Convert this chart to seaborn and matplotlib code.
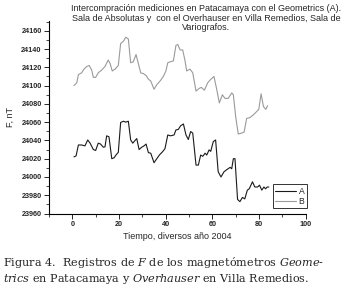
import matplotlib
matplotlib.use("Agg")
import matplotlib.pyplot as plt
import seaborn as sns
import pandas as pd
from matplotlib.ticker import MultipleLocator

# Series A (Geometrics, Patacamaya)
a_x = [0.7, 1.6, 2.6, 4.0, 5.4, 6.6, 7.6, 9.0, 10.0, 11.1, 12.1, 13.3, 14.0, 14.7, 15.7,
       16.9, 17.9, 18.7, 19.7, 20.7, 21.9, 22.9, 24.0, 25.0, 25.9, 26.9, 27.6, 28.6, 29.7,
       30.7, 31.6, 32.6, 33.6, 35.0, 36.2, 37.3, 38.7, 39.7, 40.9, 42.1, 43.6, 44.4, 45.4,
       46.4, 47.6, 48.7, 49.7, 50.7, 51.6, 53.0, 54.0, 55.0, 55.9, 56.9, 57.6, 58.6, 59.3,
       60.4, 61.4, 62.5, 63.7, 65.0, 66.2, 67.6, 68.3, 69.0, 69.7, 70.8, 71.8, 72.9, 73.9,
       75.0, 75.8, 77.2, 78.2, 79.4, 80.2, 81.2, 82.1, 82.8, 83.5, 84.2]
a_y = [24022, 24023, 24035, 24035, 24034, 24040.5, 24037, 24030, 24029, 24037, 24036, 24032.5,
       24033, 24045, 24044, 24020, 24021, 24024, 24027, 24059.6, 24061, 24060, 24061, 24040.5,
       24037, 24040, 24042, 24030, 24032.5, 24034, 24036, 24026.6, 24026, 24015.6, 24020, 24024,
       24027.7, 24031, 24046, 24045, 24046, 24051.5, 24052, 24056, 24058, 24046, 24041, 24049.7,
       24048, 24013, 24013, 24024, 24022.6, 24026, 24024, 24029.6, 24028, 24038.7, 24040.5,
       24005.7, 24000, 24005.7, 24008, 24010.5, 24009, 24020, 24020, 23975.4, 23973, 23977.6,
       23976, 23985.6, 23987, 23994.7, 23989, 23989, 23991, 23985.6, 23989, 23987, 23989, 23989]

# Series B (Overhauser, Villa Remedios)
b_x = [0.7, 1.9, 2.6, 4.0, 5.0, 6.2, 7.2, 8.3, 9.0, 10.0, 11.1, 12.6, 14.0, 15.4, 16.2, 17.1,
       18.3, 19.7, 20.7, 21.9, 22.9, 24.0, 25.0, 26.1, 27.3, 28.3, 29.3, 30.5, 31.6, 32.6, 33.6,
       35.0, 36.2, 37.6, 39.0, 40.1, 40.9, 41.9, 43.3, 44.4, 45.2, 46.2, 47.3, 48.3, 49.0, 50.4,
       51.6, 53.0, 54.4, 55.3, 56.6, 58.0, 59.0, 60.7, 61.9, 63.0, 64.3, 65.4, 66.8, 68.3, 69.0,
       70.0, 71.1, 72.5, 73.6, 74.7, 76.1, 77.6, 79.0, 79.9, 80.9, 81.9, 82.9, 83.7]
b_y = [24100, 24103, 24112, 24114, 24118, 24121, 24122, 24117, 24109, 24109, 24114, 24117,
       24121, 24128, 24124, 24116, 24118, 24122, 24146, 24148.6, 24153, 24151, 24125, 24126,
       24134, 24124, 24114, 24113, 24111, 24107, 24105, 24096, 24101, 24105, 24110, 24116,
       24125, 24126, 24127, 24144, 24145, 24139, 24139, 24127, 24116, 24118, 24114, 24094,
       24097, 24098, 24095, 24103, 24106, 24110, 24095.5, 24081, 24090, 24086, 24086, 24092,
       24090, 24066, 24047, 24048, 24049, 24064, 24065, 24068, 24071.6, 24074, 24091, 24077,
       24074, 24078]

labels = ["A", "B"]
x_ticks = [0, 20, 40, 60, 80, 100]
y_ticks = [23960, 23980, 24000, 24020, 24040, 24060, 24080, 24100, 24120, 24140, 24160]

title = ("Intercompración mediciones en Patacamaya con el Geometrics (A).\n"
         "Sala de Absolutas y  con el Overhauser en Villa Remedios, Sala de\n"
         "Variografos.")
xlabel = "Tiempo, diversos año 2004"
ylabel = "F, nT"

sns.set_style("ticks")
plt.rcParams['font.family'] = ['Liberation Sans', 'DejaVu Sans']
plt.rcParams['mathtext.fontset'] = 'dejavuserif'

fig = plt.figure(figsize=(3.5, 2.96), dpi=100)
ax = fig.add_axes([0.14, 0.2787, 0.7334, 0.6513])

dfa = pd.DataFrame({"x": a_x, "y": a_y})
dfb = pd.DataFrame({"x": b_x, "y": b_y})
sns.lineplot(data=dfa, x="x", y="y", ax=ax, color="#1a1a1a", lw=0.8, label=labels[0])
sns.lineplot(data=dfb, x="x", y="y", ax=ax, color="#9a9a9a", lw=0.8, label=labels[1])

ax.set_xlim(-10, 100)
ax.set_ylim(23960, 24171)
ax.set_xticks(x_ticks)
ax.set_yticks(y_ticks)
ax.xaxis.set_minor_locator(MultipleLocator(10))
ax.yaxis.set_minor_locator(MultipleLocator(10))
ax.tick_params(which='major', length=3.3, width=0.7, direction='out', labelsize=5.2, pad=2)
ax.tick_params(which='minor', length=1.9, width=0.6, direction='out')
for lab in ax.get_xticklabels() + ax.get_yticklabels():
    lab.set_fontweight('bold')
for s in ['top', 'right']:
    ax.spines[s].set_visible(False)
for s in ['left', 'bottom']:
    ax.spines[s].set_linewidth(0.8)
    ax.spines[s].set_color('black')

ax.set_xlabel(xlabel, fontsize=6.5, labelpad=3)
ax.set_ylabel(ylabel, fontsize=6.5)
ax.yaxis.set_label_coords(-0.135, 0.5)

fig.text(206/350, 1 - 4/296, title, ha='center', va='top', fontsize=6.5, linespacing=1.1)

leg = ax.legend(loc='lower right', bbox_to_anchor=(1.005, 0.027), fontsize=6.2,
                frameon=True, fancybox=False, handlelength=2.4, handletextpad=0.3,
                borderpad=0.3, labelspacing=0.12, borderaxespad=0)
leg.get_frame().set_edgecolor('black')
leg.get_frame().set_linewidth(0.7)

cap1 = r"Figura 4.  Registros de $F$ de los magnetómetros $\mathit{Geome}$-"
cap2 = r"$\mathit{trics}$ en Patacamaya y $\mathit{Overhauser}$ en Villa Remedios."
fig.text(3/350, 1 - 263/296, cap1, ha='left', va='center', fontsize=8.15, family='DejaVu Serif')
fig.text(3/350, 1 - 279/296, cap2, ha='left', va='center', fontsize=8.15, family='DejaVu Serif')

fig.savefig("out.png", dpi=100)
